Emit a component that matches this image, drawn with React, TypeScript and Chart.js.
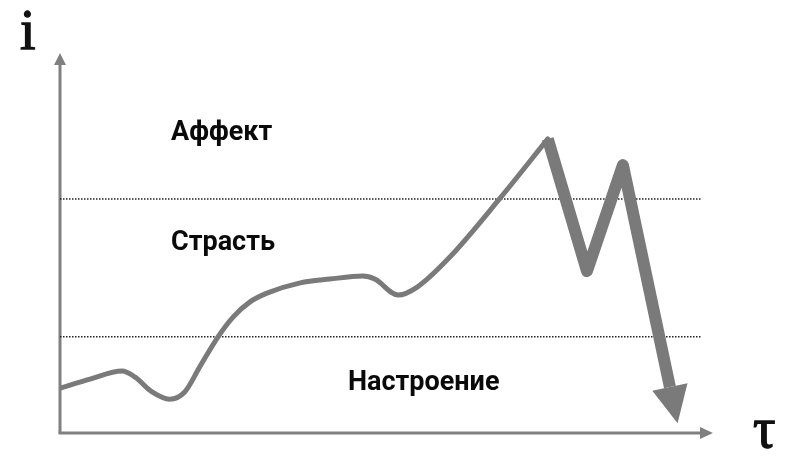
import { useEffect, useRef } from "react"
import { Chart, registerables } from "chart.js"

Chart.register(...registerables)

// smooth part of the curve (mood -> passion)
const curveX = [0, 4.6, 9.5, 11.5, 14.1, 16.8, 19.1, 21.4, 24.2, 26.5, 29.1, 31.7, 36.8, 41.3, 46.4, 48.2, 51.8, 54.7, 59.7, 67.4, 74.7]
const curveY = [11.8, 14.2, 16.3, 14.7, 10.8, 8.9, 10.8, 17.4, 25.3, 30.5, 34.5, 36.8, 39.5, 40.5, 41.3, 40.5, 36.3, 38.4, 46.3, 61.8, 77.4]

// zigzag part (affect), ends in an arrow
const zigX = [74.7, 80.7, 86.2, 93.4]
const zigY = [77.4, 42.6, 70.5, 12.1]

// zone borders
const levels = [61.6, 25.3]
const levelEnd = 98.3

const zoneNames = ["Аффект", "Страсть", "Настроение"]
const zoneX = [17.0, 17.0, 44.1]
const zoneY = [77.1, 48.2, 11.3]

const GREY = "#7a7a7a"

const drawPlugin = {
  id: "decor",
  beforeDatasetsDraw: (chart: any) => {
    const { ctx, chartArea } = chart
    const { left, right, top, bottom } = chartArea
    ctx.save()
    ctx.strokeStyle = "#808080"
    ctx.fillStyle = "#808080"
    ctx.lineWidth = 3
    // y axis
    ctx.beginPath()
    ctx.moveTo(left, bottom)
    ctx.lineTo(left, top + 10)
    ctx.stroke()
    ctx.beginPath()
    ctx.moveTo(left, top)
    ctx.lineTo(left - 6, top + 12)
    ctx.lineTo(left + 6, top + 12)
    ctx.closePath()
    ctx.fill()
    // x axis
    ctx.beginPath()
    ctx.moveTo(left - 1.5, bottom)
    ctx.lineTo(right - 10, bottom)
    ctx.stroke()
    ctx.beginPath()
    ctx.moveTo(right, bottom)
    ctx.lineTo(right - 13, bottom - 6)
    ctx.lineTo(right - 13, bottom + 6)
    ctx.closePath()
    ctx.fill()

    // axis names (a bit heavier than regular serif)
    ctx.fillStyle = "#111"
    ctx.strokeStyle = "#111"
    ctx.lineWidth = 1.3
    ctx.font = "56px 'Liberation Serif', serif"
    ctx.textAlign = "left"
    ctx.textBaseline = "alphabetic"
    ctx.fillText("i", 20, 49)
    ctx.strokeText("i", 20, 49)
    ctx.fillText("τ", 753, 447)
    ctx.strokeText("τ", 753, 447)

    // zone labels
    const xs = chart.scales.x
    const ys = chart.scales.y
    ctx.font = "bold 27px Roboto, sans-serif"
    ctx.fillStyle = "#0a0a0a"
    zoneNames.forEach((name, i) => {
      ctx.fillText(name, xs.getPixelForValue(zoneX[i]), ys.getPixelForValue(zoneY[i]))
    })
    ctx.restore()
  },
  afterDatasetsDraw: (chart: any) => {
    // arrow head on the end of the zigzag
    const meta = chart.getDatasetMeta(1)
    const pts = meta.data
    const a = pts[pts.length - 2]
    const b = pts[pts.length - 1]
    const dx = b.x - a.x
    const dy = b.y - a.y
    const len = Math.sqrt(dx * dx + dy * dy)
    const ux = dx / len
    const uy = dy / len
    const { ctx } = chart
    ctx.save()
    ctx.fillStyle = GREY
    ctx.beginPath()
    ctx.moveTo(b.x + ux * 37, b.y + uy * 37)
    ctx.lineTo(b.x - uy * 18, b.y + ux * 18)
    ctx.lineTo(b.x + uy * 18, b.y - ux * 18)
    ctx.closePath()
    ctx.fill()
    ctx.restore()
  },
}

export default function App() {
  const chartRef = useRef<HTMLCanvasElement>(null)
  const chartInstance = useRef<Chart | null>(null)

  useEffect(() => {
    document.body.style.margin = "0"
    if (!chartRef.current) return
    const ctx = chartRef.current.getContext("2d")
    if (!ctx) return
    if (chartInstance.current) chartInstance.current.destroy()

    const levelSets = levels.map((v) => ({
      data: [
        { x: 0, y: v },
        { x: levelEnd, y: v },
      ],
      borderColor: "#222",
      borderWidth: 1.5,
      borderDash: [1.5, 1.5],
      pointRadius: 0,
      tension: 0,
    }))

    chartInstance.current = new Chart(ctx, {
      type: "line",
      data: {
        datasets: [
          {
            data: curveX.map((x, i) => ({ x, y: curveY[i] })),
            borderColor: GREY,
            borderWidth: 5,
            pointRadius: 0,
            cubicInterpolationMode: "monotone",
            borderCapStyle: "round",
            borderJoinStyle: "round",
          },
          {
            data: zigX.map((x, i) => ({ x, y: zigY[i] })),
            borderColor: GREY,
            borderWidth: 12,
            pointRadius: 0,
            tension: 0,
            borderJoinStyle: "round",
          },
          ...levelSets,
        ],
      },
      options: {
        animation: false,
        responsive: false,
        layout: { padding: { left: 60, right: 87, top: 53, bottom: 34 } },
        scales: {
          x: { type: "linear", min: 0, max: 100, display: false },
          y: { type: "linear", min: 0, max: 100, display: false },
        },
        plugins: {
          legend: { display: false },
          tooltip: { enabled: false },
        },
      } as any,
      plugins: [drawPlugin],
    })

    return () => {
      if (chartInstance.current) {
        chartInstance.current.destroy()
        chartInstance.current = null
      }
    }
  }, [])

  return (
    <div style={{ width: 800, height: 467, background: "#fff" }}>
      <canvas ref={chartRef} width={800} height={467} />
    </div>
  )
}
